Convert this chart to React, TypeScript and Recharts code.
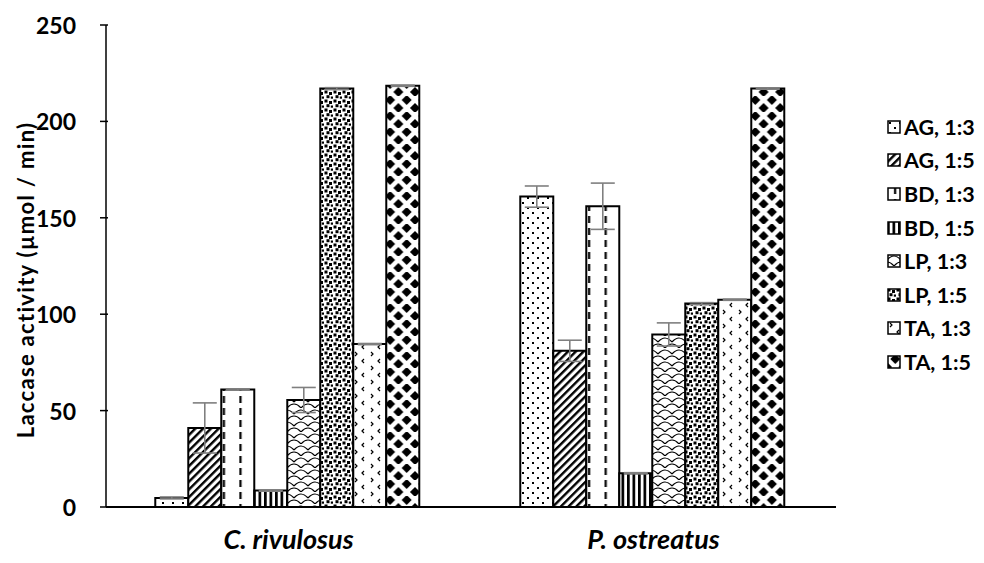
import React from "react";
import { BarChart, Bar, XAxis, YAxis, ErrorBar } from "recharts";

const categories = ["C. rivulosus", "P. ostreatus"];
const seriesNames = ["AG, 1:3", "AG, 1:5", "BD, 1:3", "BD, 1:5", "LP, 1:3", "LP, 1:5", "TA, 1:3", "TA, 1:5"];

const ag13 = [4.7, 161];
const ag15 = [41, 81];
const bd13 = [61, 156];
const bd15 = [8.5, 17.5];
const lp13 = [55.5, 89.5];
const lp15 = [217, 105.5];
const ta13 = [84.5, 107.5];
const ta15 = [218.5, 217];

const ag13Err = [0.5, 5.5];
const ag15Err = [13, 5.5];
const bd13Err = [0.3, 12];
const bd15Err = [0.3, 0.3];
const lp13Err = [6.5, 6];
const lp15Err = [0.5, 0.5];
const ta13Err = [0.3, 0.3];
const ta15Err = [0.3, 0.3];

const yTicks = [0, 50, 100, 150, 200, 250];

const values = [ag13, ag15, bd13, bd15, lp13, lp15, ta13, ta15];
const errors = [ag13Err, ag15Err, bd13Err, bd15Err, lp13Err, lp15Err, ta13Err, ta15Err];

const data = categories.map((name, i) => {
  const row: any = { name };
  values.forEach((v, s) => {
    row["s" + s] = v[i];
    row["e" + s] = errors[s][i];
  });
  return row;
});

const FONT = "Lato, 'Open Sans', sans-serif";

function Patterns() {
  return (
    <svg width={0} height={0} style={{ position: "absolute" }}>
      <defs>
        <pattern id="pat0" patternUnits="userSpaceOnUse" width={10} height={10}>
          <rect width={10} height={10} fill="#fff" />
          <rect x={2} y={2} width={2} height={2} fill="#000" />
          <rect x={7} y={7} width={2} height={2} fill="#000" />
        </pattern>
        <pattern id="pat1" patternUnits="userSpaceOnUse" width={5.5} height={5.5} patternTransform="rotate(45)">
          <rect width={5.5} height={5.5} fill="#fff" />
          <rect width={2.4} height={5.5} fill="#000" />
        </pattern>
        <pattern id="pat2" patternUnits="userSpaceOnUse" width={16.6} height={12}>
          <rect width={16.6} height={12} fill="#fff" />
          <rect x={7} y={0} width={2.2} height={7} fill="#000" />
        </pattern>
        <pattern id="pat3" patternUnits="userSpaceOnUse" width={5.5} height={5.5}>
          <rect width={5.5} height={5.5} fill="#fff" />
          <rect width={2.7} height={5.5} fill="#000" />
        </pattern>
        <pattern id="pat4" patternUnits="userSpaceOnUse" width={14} height={12}>
          <rect width={14} height={12} fill="#fff" />
          <path d="M0 6 Q7 -2 14 6 M-7 12 Q0 4 7 12 M7 12 Q14 4 21 12" fill="none" stroke="#000" strokeWidth={1.2} />
        </pattern>
        <pattern id="pat5" patternUnits="userSpaceOnUse" width={9} height={9}>
          <rect width={9} height={9} fill="#fff" />
          <rect x={0.5} y={0.5} width={3} height={3} fill="#000" />
          <rect x={5} y={2} width={3} height={3} fill="#000" />
          <rect x={2.5} y={5.2} width={3} height={3} fill="#000" />
          <rect x={6.8} y={6.5} width={2.2} height={2.2} fill="#000" />
        </pattern>
        <pattern id="pat6" patternUnits="userSpaceOnUse" width={16} height={14}>
          <rect width={16} height={14} fill="#fff" />
          <polyline points="3,2 5,4 3,6" fill="none" stroke="#000" strokeWidth={1.2} />
          <polyline points="12,9 10,11 12,13" fill="none" stroke="#000" strokeWidth={1.2} />
        </pattern>
        <pattern id="pat7" patternUnits="userSpaceOnUse" width={16.6} height={16}>
          <rect width={16.6} height={16} fill="#fff" />
          <polygon points="8.3,-1 13.3,4 8.3,9 3.3,4" fill="#000" />
          <polygon points="0,7 5,12 0,17 -5,12" fill="#000" />
          <polygon points="16.6,7 21.6,12 16.6,17 11.6,12" fill="#000" />
        </pattern>
      </defs>
    </svg>
  );
}

function YTick(props: any) {
  const { x, y, payload } = props;
  const axisX = x + 24;
  return (
    <g>
      <line x1={axisX} x2={axisX + 8} y1={y} y2={y} stroke="#000" strokeWidth={1.5} />
      <text x={x} y={y} textAnchor="end" dominantBaseline="central" fontFamily={FONT} fontWeight={700} fontSize={23} fill="#000">
        {payload.value}
      </text>
    </g>
  );
}

function XTick(props: any) {
  const { x, y, payload } = props;
  return (
    <text x={x} y={y + 23} textAnchor="middle" dominantBaseline="central" fontFamily={FONT} fontWeight={700} fontStyle="italic" fontSize={27} fill="#000">
      {payload.value}
    </text>
  );
}

function YLabel() {
  const cx = 25;
  const cy = 280;
  return (
    <text x={cx} y={cy} transform={`rotate(-90, ${cx}, ${cy})`} textAnchor="middle" dominantBaseline="central" fontFamily={FONT} fontWeight={700} fontSize={22} letterSpacing={1.3} fill="#000">
      Laccase activity (µmol / min)
    </text>
  );
}

function LegendBox() {
  return (
    <div style={{ position: "absolute", left: 887, top: 110, fontFamily: FONT, fontWeight: 700, fontSize: 21.5, color: "#000" }}>
      {seriesNames.map((n, i) => (
        <div key={n} style={{ display: "flex", alignItems: "center", height: 33.6 }}>
          <svg width={14} height={14} style={{ marginRight: 3 }}>
            <rect x={1} y={1} width={12} height={12} fill={`url(#pat${i})`} stroke="#000" strokeWidth={1.5} />
          </svg>
          <span>{n}</span>
        </div>
      ))}
    </div>
  );
}

export default function App() {
  return (
    <div style={{ position: "relative", width: 984, height: 563, background: "#fff" }}>
      <style>{"body{margin:0;background:#fff}"}</style>
      <Patterns />
      <BarChart
        width={984}
        height={563}
        data={data}
        margin={{ top: 25, right: 148, bottom: 0, left: 0 }}
        barCategoryGap="13.5%"
        barGap={0}
      >
        <XAxis dataKey="name" height={56} tickLine={false} axisLine={{ stroke: "#000", strokeWidth: 2 }} tick={<XTick />} />
        <YAxis
          width={106}
          domain={[0, 250]}
          ticks={yTicks}
          tickLine={false}
          tickMargin={24}
          axisLine={{ stroke: "#000", strokeWidth: 1.5 }}
          tick={<YTick />}
          label={<YLabel />}
        />
        {seriesNames.map((n, i) => (
          <Bar key={n} dataKey={"s" + i} name={n} fill={`url(#pat${i})`} stroke="#000" strokeWidth={2} isAnimationActive={false}>
            <ErrorBar dataKey={"e" + i} width={12} stroke="#7f7f7f" strokeWidth={1.6} />
          </Bar>
        ))}
      </BarChart>
      <LegendBox />
    </div>
  );
}
